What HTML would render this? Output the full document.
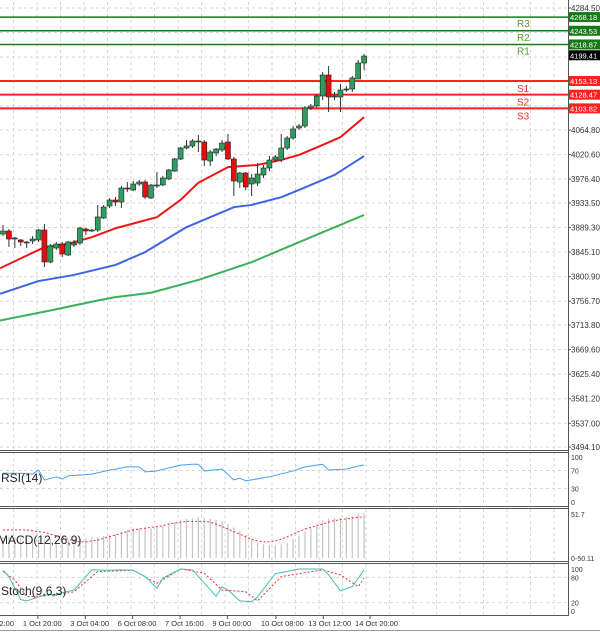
<!DOCTYPE html>
<html><head><meta charset="utf-8"><style>
body{margin:0;background:#fff;font-family:"Liberation Sans",sans-serif}
svg{display:block}
</style></head><body>
<svg id="c" width="600" height="635" xmlns="http://www.w3.org/2000/svg"></svg>
<script>
// ---- data ----
const opens=[3877.7,3883.1,3868.7,3866.9,3861.5,3865.1,3866.9,3884.9,3827.3,3852.5,3859.7,3839.9,3857.9,3861.5,3886.7,3883.1,3884.9,3906.5,3928.1,3938.9,3935.3,3960.5,3956.9,3967.7,3971.3,3942.5,3964.1,3965.9,3976.7,3991.1,4012.7,4032.5,4036.1,4043.3,4043.3,4009.1,4023.5,4028.9,4043.3,4012.7,3971.3,3987.5,3967.7,3969.5,3983.9,3996.5,4010.9,4010.9,4032.5,4050.5,4068.5,4072.1,4104.5,4108.1,4126.1,4163.9,4124.3,4124.3,4136.9,4138.7,4156.7,4185.5];
const closes=[3883.1,3868.7,3870.5,3863.3,3863.3,3868.7,3884.9,3827.3,3856.1,3859.7,3841.7,3863.3,3861.5,3888.5,3883.1,3884.9,3908.3,3926.3,3938.9,3935.3,3960.5,3958.7,3967.7,3971.3,3944.3,3965.9,3965.9,3978.5,3992.9,4012.7,4032.5,4036.1,4045.1,4045.1,4010.9,4025.3,4030.7,4041.5,4012.7,3973.1,3987.5,3962.3,3978.5,3985.7,3996.5,4010.9,4016.3,4032.5,4050.5,4066.7,4072.1,4104.5,4108.1,4126.1,4163.9,4124.3,4126.1,4136.9,4138.7,4158.5,4185.5,4198.1];
const highs=[3893.9,3886.7,3872.3,3868.7,3865.1,3874.1,3886.7,3895.7,3859.7,3863.3,3863.3,3865.1,3866.9,3890.3,3888.5,3886.7,3929.9,3929.9,3942.5,3944.3,3964.1,3971.3,3973.1,3974.9,3974.9,3967.7,3989.3,3982.1,3994.7,4014.5,4034.3,4046.9,4048.7,4055.9,4046.9,4028.9,4032.5,4046.9,4057.7,4016.3,3989.3,3989.3,3985.7,4005.5,4001.9,4018.1,4019.9,4057.7,4054.1,4072.1,4075.7,4108.1,4111.7,4129.7,4169.3,4180.1,4133.3,4147.7,4144.1,4162.1,4190.9,4201.7];
const lows=[3874.1,3854.3,3852.5,3856.1,3852.5,3859.7,3863.3,3818.3,3825.5,3848.9,3836.3,3838.1,3854.3,3857.9,3875.9,3881.3,3881.3,3904.7,3924.5,3928.1,3924.5,3953.3,3955.1,3964.1,3940.7,3940.7,3960.5,3964.1,3974.9,3989.3,4010.9,4030.7,4032.5,4025.3,4000.1,4000.1,4018.1,4025.3,4010.9,3946.1,3960.5,3956.9,3946.1,3964.1,3978.5,3991.1,4007.3,4007.3,4028.9,4046.9,4064.9,4068.5,4100.9,4104.5,4118.9,4097.3,4118.9,4097.3,4133.3,4133.3,4156.7,4172.3];
const maRedIdx=[-0.5,7,11,15,19,26,30,33,38,43,47,50,54,57,61];
const maRed=[3816,3854,3860,3872,3888,3908,3939,3970,3998,4002,4011,4020,4038,4052,4088];
const maBlueIdx=[-0.5,6,12,19,24,31,39,42,47,50,56,61];
const maBlue=[3770,3793,3804,3822,3845,3890,3926,3930,3944,3957,3984,4018];
const maGreenIdx=[-0.5,8,16,19,25,33,42,50,61];
const maGreen=[3722,3740,3758,3764,3772,3795,3827,3863,3912];
const priceTicks=[4284.50,4064.80,4020.60,3976.40,3933.50,3889.30,3845.10,3800.90,3756.70,3713.80,3669.60,3625.40,3581.20,3537.00,3494.10];
const levelNames=["R3","R2","R1","S1","S2","S3"];
const levelValues=[4268.18,4243.53,4218.87,4153.13,4128.47,4103.82];
const lastPrice=4199.41;
const rsiIdx=[0,3,5,6,7,9,10,11,13,15,18,19,21,23,24,26,30,32,33,34,37,39,40,41,45,49,51,54,55,58,60,61];
const rsiVals=[64,64,62,71,49,56,51,58,60,62,71,73,78,78,67,69,82,84,84,69,73,49,53,47,56,69,78,84,71,73,80,82];
const macdHist=[25,25,24,24,23,23,22,22,22,21,21,21,21,22,23,24,25,26,27,28,31,33,34,35,36,35,37,38,40,42,45,46,47,48,47,46,45,43,40,36,32,27,22,18,16,15,15,16,18,22,26,31,35,39,44,46,47,47,48,49,51,53];
const macdSignal=[33,33,33,33,33,32,31,30,28,26,24,22,20,19,19,20,21,23,25,27,29,31,33,34,35,36,37,38,40,41,42,43,43,43,43,42,40,37,34,31,28,25,22,20,19,19,20,22,25,28,31,34,36,38,40,42,44,45,46,47,48,48];
const stochIdx=[0,1,3,4,7,9,12,15,18,20,22,24,26,27,30,32,36,37,38,40,42,43,46,48,50,54,55,57,59,61];
const stochMain=[97,82,27,24,38,40,50,98,97,98,97,82,54,78,100,98,35,58,50,24,22,34,89,94,100,100,86,48,58,98];
const stochSigIdx=[0,2,4,9,12,16,22,26,30,34,37,41,43,47,54,57,60,61];
const stochSig=[94,74,34,38,46,94,97,66,100,90,50,46,24,82,98,86,58,78];
const timeLabels=["2:00","1 Oct 20:00","3 Oct 04:00","6 Oct 08:00","7 Oct 16:00","9 Oct 00:00","10 Oct 08:00","13 Oct 12:00","14 Oct 20:00"];
const timeIdx=[-2.6,5.9,13.9,21.9,29.9,37.9,46.1,54.1,62];

// ---- axes ----
const X=i=>3+i*5.92;
const Y=p=>8+(4284.5-p)/1.8;
const RY=v=>502-v*0.45;
const MY=v=>558-v*44/51.7;
const SY=v=>611-v*0.42;
const svg=document.getElementById('c');
const NS='http://www.w3.org/2000/svg';
function mk(t,a,parent){const e=document.createElementNS(NS,t);for(const k in a)e.setAttribute(k,a[k]);(parent||svg).appendChild(e);return e;}
function txt(s,x,y,a,parent){const e=mk('text',Object.assign({x:x,y:y,'font-size':8,fill:'#333','font-family':'Liberation Sans, sans-serif'},a),parent);e.textContent=s;return e;}

// grid
const grid=mk('g',{stroke:'#d6d6d6','stroke-dasharray':'3,3','stroke-width':1});


for(let gx=13.5;gx<568;gx+=23.5){mk('line',{x1:gx,y1:2,x2:gx,y2:450},grid);mk('line',{x1:gx,y1:452,x2:gx,y2:505},grid);mk('line',{x1:gx,y1:509,x2:gx,y2:560},grid);mk('line',{x1:gx,y1:564,x2:gx,y2:614},grid);}
priceTicks.concat([4240.3,4196.1,4152.0,4108.0]).forEach(p=>mk('line',{x1:0,y1:Y(p),x2:568,y2:Y(p)},grid));
[70,30].forEach(v=>mk('line',{x1:0,y1:RY(v),x2:568,y2:RY(v)},grid));
[80,20].forEach(v=>mk('line',{x1:0,y1:SY(v),x2:568,y2:SY(v)},grid));

// panel frames
const fr=mk('g',{stroke:'#555',fill:'none','stroke-width':1});


mk('line',{x1:568.5,y1:0,x2:568.5,y2:616},fr);
[450.5,452.5,506.5,508.5,561.5,563.5,615.5].forEach(y=>mk('line',{x1:0,y1:y,x2:568,y2:y},fr));
mk('line',{x1:0,y1:630.5,x2:600,y2:630.5,stroke:'#999'},fr);

// price ticks
priceTicks.forEach(p=>{const t=txt(p.toFixed(2),571,Y(p)+3,{});


mk('line',{x1:568,y1:Y(p),x2:571,y2:Y(p),stroke:'#555'});});

// moving averages
function poly(idx,vals,yf,color,name,dash,w){const pts=idx.map((i,k)=>X(i)+','+yf(vals[k])).join(' ');
const e=mk('polyline',{points:pts,fill:'none',stroke:color,'stroke-width':w||2,'stroke-dasharray':dash||'none','stroke-linejoin':'round'});

}
poly(maGreenIdx,maGreen,Y,'#3cb05a','ma-green');
poly(maBlueIdx,maBlue,Y,'#3c64e6','ma-blue');
poly(maRedIdx,maRed,Y,'#f01414','ma-red');

// levels
levelValues.forEach((v,k)=>{const res=k<3;const col=res?'#177a17':'#ff2020';
const l=mk('line',{x1:0,y1:Y(v),x2:568,y2:Y(v),stroke:col,'stroke-width':res?1.5:2});


const lt=txt(levelNames[k],517,res?Y(v)+10:Y(v)+11,{'font-size':10,fill:res?'#5a9a2a':'#f03030'});


mk('rect',{x:569,y:Y(v)-5,width:31,height:10,fill:res?'#177a17':'#ff2020'});
const tt=txt(v.toFixed(2),570,Y(v)+3,{fill:'#fff','font-size':7.5});

});
mk('rect',{x:569,y:Y(lastPrice)-5,width:31,height:10,fill:'#000'});
const lp=txt(lastPrice.toFixed(2),570,Y(lastPrice)+3,{fill:'#fff','font-size':7.5});



// candles
opens.forEach((o,i)=>{const c=closes[i];const x=X(i);const up=c>=o;
const g=mk('g',{});


mk('line',{x1:x,y1:Y(highs[i]),x2:x,y2:Y(lows[i]),stroke:'#333','stroke-width':1},g);
const top=Y(Math.max(o,c)),bot=Y(Math.min(o,c));
mk('rect',{x:x-2.5,y:top,width:5,height:Math.max(1,bot-top),fill:up?'#2e9e5e':'#e80d0d',stroke:'#222','stroke-width':0.6},g);});

// RSI
poly(rsiIdx,rsiVals,RY,'#4a9ef0','rsi-line',null,1);
const rl=txt('RSI(14)',1,482,{'font-size':12,fill:'#222'});


[[100,'100'],[70,'70'],[30,'30'],[0,'0']].forEach(a=>{const t=txt(a[1],571,RY(a[0])+3,{'font-size':7});

});

// MACD
macdHist.forEach((v,i)=>{const b=mk('line',{x1:X(i),y1:MY(0),x2:X(i),y2:MY(v),stroke:'#c4c4c4','stroke-width':1.2});

});
poly(macdSignal.map((v,i)=>i),macdSignal,MY,'#f03030','macd-signal','2,2',1);
const ml=txt('MACD(12,26,9)',-2,544,{'font-size':12,fill:'#222'});


txt('51.7',571,MY(51.7)+3,{'font-size':7});
txt('0',571,MY(0)+3,{'font-size':7});
txt('-50.11',575,MY(0)+3,{'font-size':7});

// Stoch
poly(stochSigIdx,stochSig,SY,'#f03030','stoch-signal','2,2',1);
poly(stochIdx,stochMain,SY,'#40c0b0','stoch-main',null,1);
const sl=txt('Stoch(9,6,3)',1,595,{'font-size':12,fill:'#222'});


[[100,'100'],[80,'80'],[20,'20'],[0,'0']].forEach(a=>{const t=txt(a[1],571,SY(a[0])+3,{'font-size':7});

});

// time axis
timeLabels.forEach((s,k)=>{const x=X(timeIdx[k]);
mk('line',{x1:x,y1:615,x2:x,y2:619,stroke:'#555'});
const t=txt(s,x-(k===0?-2:0),626,{'font-size':7.5,'text-anchor':k===0?'end':'start'});
if(k===0){t.setAttribute('x',14);}else{t.setAttribute('x',x-15);}

});
</script>
</body></html>
